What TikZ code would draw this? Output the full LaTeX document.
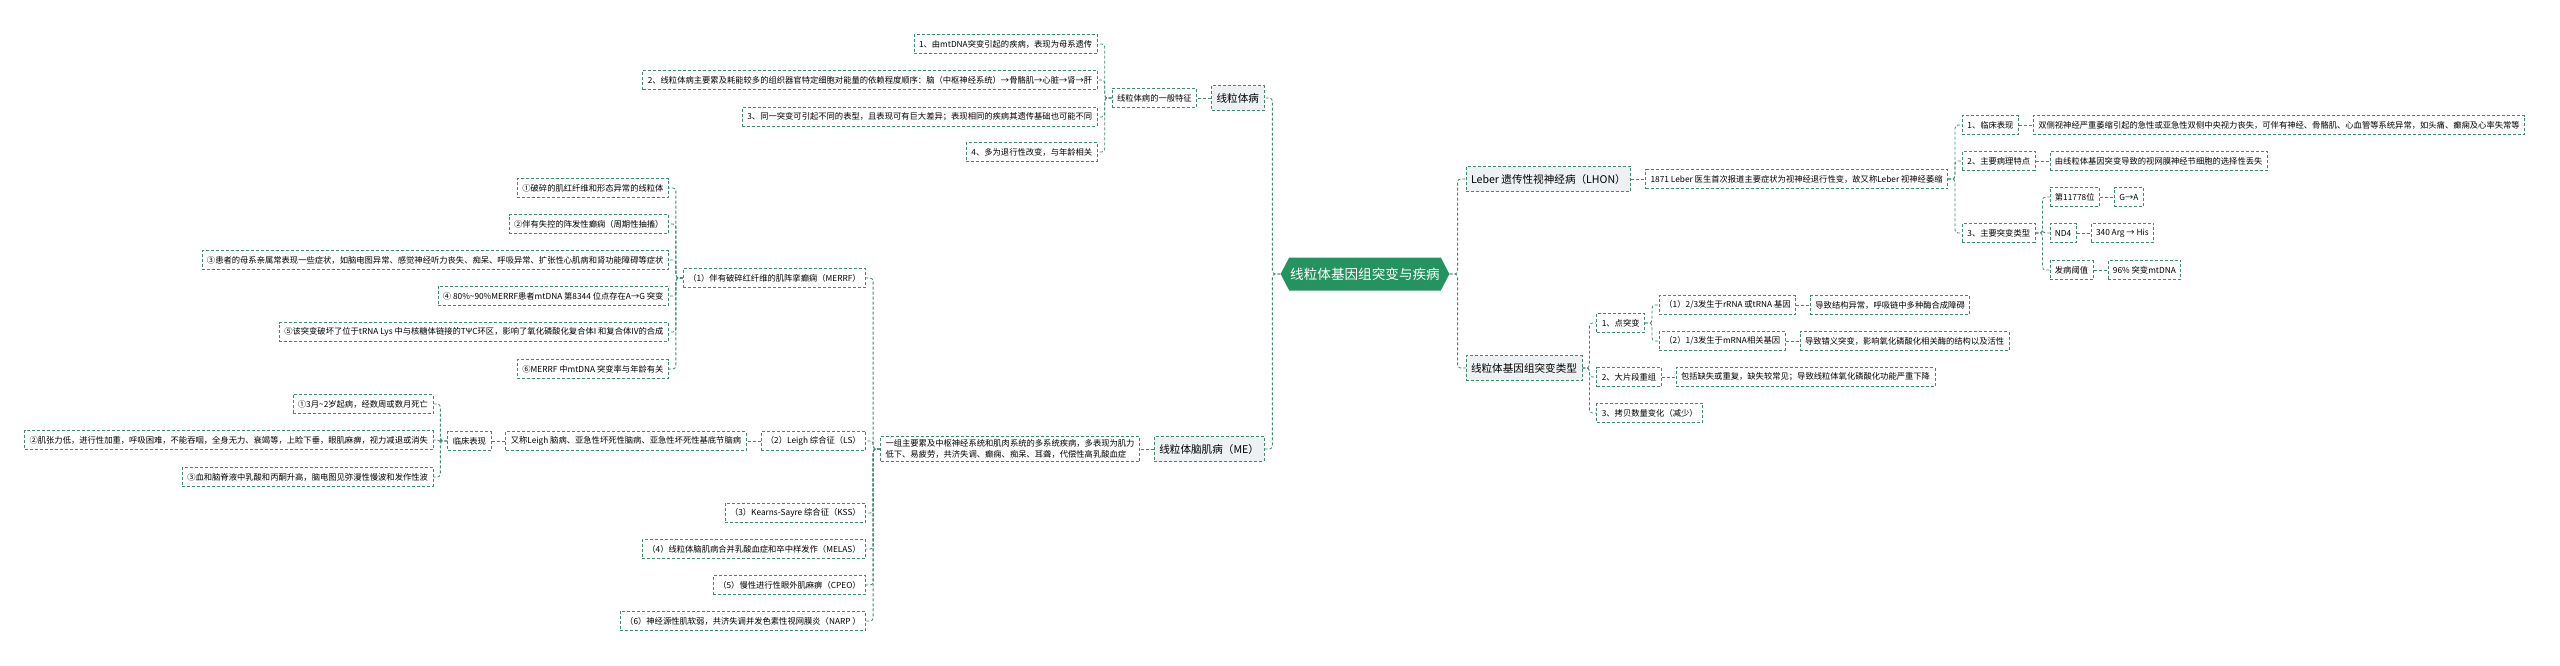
\documentclass[tikz,border=0pt]{standalone}
\usepackage{fontspec}
\setmainfont{Noto Sans CJK SC}
\usepackage{tikz}
\usetikzlibrary{positioning,shapes.symbols}
\definecolor{rootgreen}{HTML}{25935F}
\definecolor{linegreen}{HTML}{3F8B6C}
\definecolor{topicgray}{HTML}{EEF1F4}

\begin{document}
\begin{tikzpicture}[
    x=1pt,y=-1pt,
    font=\fontsize{8.3}{11.5}\selectfont,
    leaf/.style={draw=linegreen,dash pattern=on 3pt off 2pt,line width=0.8pt,fill=white,inner xsep=5pt,inner ysep=3pt,minimum height=19pt},
    topic/.style={leaf,fill=topicgray,font=\fontsize{10.6}{12}\selectfont,minimum height=25pt},
    centre/.style={shape=signal,signal to=west and east,signal pointer angle=125,fill=rootgreen,text=white,font=\fontsize{13.6}{15}\selectfont,minimum height=33pt,inner xsep=1pt},
    link/.style={draw=linegreen,dash pattern=on 3pt off 2pt,line width=0.8pt,rounded corners=3pt}
  ]
  \useasboundingbox (0,0) rectangle (2560,665);
  \node[centre] (root) at (1365,274) {线粒体基因组突变与疾病};

  % left: general features
  \node[topic,anchor=east,xshift=-16pt] (sick) at (root.west |- 0,98) {线粒体病};
  \node[leaf,left=14pt of sick] (gen) {线粒体病的一般特征};
  \node[leaf,anchor=east,xshift=-14pt] (g1) at (gen.west |- 0,44) {1、由mtDNA突变引起的疾病，表现为母系遗传};
  \node[leaf,anchor=east,xshift=-14pt] (g2) at (gen.west |- 0,80) {2、线粒体病主要累及耗能较多的组织器官特定细胞对能量的依赖程度顺序：脑（中枢神经系统）→骨骼肌→心脏→肾→肝};
  \node[leaf,anchor=east,xshift=-14pt] (g3) at (gen.west |- 0,117) {3、同一突变可引起不同的表型，且表现可有巨大差异；表现相同的疾病其遗传基础也可能不同};
  \node[leaf,anchor=east,xshift=-14pt] (g4) at (gen.west |- 0,152) {4、多为退行性改变，与年龄相关};

  % left: encephalomyopathy
  \node[topic,anchor=east,xshift=-16pt] (me) at (root.west |- 0,449) {线粒体脑肌病（ME）};
  \node[leaf,left=14pt of me,align=left] (medesc) {一组主要累及中枢神经系统和肌肉系统的多系统疾病，多表现为肌力\\低下、易疲劳，共济失调、癫痫、痴呆、耳聋，代偿性高乳酸血症};
  \node[leaf,anchor=east,xshift=-14pt] (merrf) at (medesc.west |- 0,278) {（1）伴有破碎红纤维的肌阵挛癫痫（MERRF）};
  \node[leaf,anchor=east,xshift=-14pt] (m1) at (merrf.west |- 0,188) {①破碎的肌红纤维和形态异常的线粒体};
  \node[leaf,anchor=east,xshift=-14pt] (m2) at (merrf.west |- 0,224) {②伴有失控的阵发性癫痫（周期性抽搐）};
  \node[leaf,anchor=east,xshift=-14pt] (m3) at (merrf.west |- 0,260) {③患者的母系亲属常表现一些症状，如脑电图异常、感觉神经听力丧失、痴呆、呼吸异常、扩张性心肌病和肾功能障碍等症状};
  \node[leaf,anchor=east,xshift=-14pt] (m4) at (merrf.west |- 0,296) {④ 80\%\textasciitilde90\%MERRF患者mtDNA 第8344 位点存在A→G 突变};
  \node[leaf,anchor=east,xshift=-14pt] (m5) at (merrf.west |- 0,332) {⑤该突变破坏了位于tRNA Lys 中与核糖体链接的TΨC环区，影响了氧化磷酸化复合体I 和复合体IV的合成};
  \node[leaf,anchor=east,xshift=-14pt] (m6) at (merrf.west |- 0,369) {⑥MERRF 中mtDNA 突变率与年龄有关};
  \node[leaf,anchor=east,xshift=-14pt] (leigh) at (medesc.west |- 0,441) {（2）Leigh 综合征（LS）};
  \node[leaf,left=14pt of leigh] (alias) {又称Leigh 脑病、亚急性坏死性脑病、亚急性坏死性基底节脑病};
  \node[leaf,left=14pt of alias] (clin) {临床表现};
  \node[leaf,anchor=east,xshift=-14pt] (k1) at (clin.west |- 0,404) {①3月\textasciitilde2岁起病，经数周或数月死亡};
  \node[leaf,anchor=east,xshift=-14pt] (k2) at (clin.west |- 0,440) {②肌张力低，进行性加重，呼吸困难，不能吞咽，全身无力、衰竭等，上睑下垂，眼肌麻痹，视力减退或消失};
  \node[leaf,anchor=east,xshift=-14pt] (k3) at (clin.west |- 0,477) {③血和脑脊液中乳酸和丙酮升高，脑电图见弥漫性慢波和发作性波};
  \node[leaf,anchor=east,xshift=-14pt] (kss) at (medesc.west |- 0,513) {（3）Kearns-Sayre 综合征（KSS）};
  \node[leaf,anchor=east,xshift=-14pt] (melas) at (medesc.west |- 0,549) {（4）线粒体脑肌病合并乳酸血症和卒中样发作（MELAS）};
  \node[leaf,anchor=east,xshift=-14pt] (cpeo) at (medesc.west |- 0,585) {（5）慢性进行性眼外肌麻痹（CPEO）};
  \node[leaf,anchor=east,xshift=-14pt] (narp) at (medesc.west |- 0,621) {（6）神经源性肌软弱，共济失调并发色素性视网膜炎（NARP ）};

  % right: LHON
  \node[topic,anchor=west,xshift=16pt] (lhon) at (root.east |- 0,179) {Leber 遗传性视神经病（LHON）};
  \node[leaf,right=14pt of lhon] (l0) {1871 Leber 医生首次报道主要症状为视神经退行性变，故又称Leber 视神经萎缩};
  \node[leaf,anchor=west,xshift=14pt] (c1) at (l0.east |- 0,125) {1、临床表现};
  \node[leaf,right=14pt of c1] (c1d) {双侧视神经严重萎缩引起的急性或亚急性双侧中央视力丧失，可伴有神经、骨骼肌、心血管等系统异常，如头痛、癫痫及心率失常等};
  \node[leaf,anchor=west,xshift=14pt] (c2) at (l0.east |- 0,161) {2、主要病理特点};
  \node[leaf,right=14pt of c2] (c2d) {由线粒体基因突变导致的视网膜神经节细胞的选择性丢失};
  \node[leaf,anchor=west,xshift=14pt] (c3) at (l0.east |- 0,233) {3、主要突变类型};
  \node[leaf,anchor=west,xshift=14pt] (t1) at (c3.east |- 0,197) {第11778位};
  \node[leaf,right=14pt of t1] (t1d) {G→A};
  \node[leaf,anchor=west,xshift=14pt] (t2) at (c3.east |- 0,233) {ND4};
  \node[leaf,right=14pt of t2] (t2d) {340 Arg → His};
  \node[leaf,anchor=west,xshift=14pt] (t3) at (c3.east |- 0,270) {发病阈值};
  \node[leaf,right=14pt of t3] (t3d) {96\% 突变mtDNA};

  % right: mutation types
  \node[topic,anchor=west,xshift=16pt] (mut) at (root.east |- 0,368) {线粒体基因组突变类型};
  \node[leaf,anchor=west,xshift=14pt] (p1) at (mut.east |- 0,323) {1、点突变};
  \node[leaf,anchor=west,xshift=14pt] (pa) at (p1.east |- 0,305) {（1）2/3发生于rRNA 或tRNA 基因};
  \node[leaf,right=14pt of pa] (pad) {导致结构异常，呼吸链中多种酶合成障碍};
  \node[leaf,anchor=west,xshift=14pt] (pb) at (p1.east |- 0,341) {（2）1/3发生于mRNA相关基因};
  \node[leaf,right=14pt of pb] (pbd) {导致错义突变，影响氧化磷酸化相关酶的结构以及活性};
  \node[leaf,anchor=west,xshift=14pt] (p2) at (mut.east |- 0,377) {2、大片段重组};
  \node[leaf,right=14pt of p2] (p2d) {包括缺失或重复，缺失较常见；导致线粒体氧化磷酸化功能严重下降};
  \node[leaf,anchor=west,xshift=14pt] (p3) at (mut.east |- 0,413) {3、拷贝数量变化（减少）};

  \draw[link] (root.west) -- ++(-8,0) |- (sick.east);
  \draw[link] (root.west) -- ++(-8,0) |- (me.east);
  \draw[link] (root.east) -- ++(8,0) |- (lhon.west);
  \draw[link] (root.east) -- ++(8,0) |- (mut.west);

  \draw[link] (sick.west) -- (gen.east);
  \draw[link] (gen.west) -- ++(-7,0) |- (g1.east);
  \draw[link] (gen.west) -- ++(-7,0) |- (g2.east);
  \draw[link] (gen.west) -- ++(-7,0) |- (g3.east);
  \draw[link] (gen.west) -- ++(-7,0) |- (g4.east);

  \draw[link] (me.west) -- (medesc.east);
  \draw[link] (medesc.west) -- ++(-7,0) |- (merrf.east);
  \draw[link] (medesc.west) -- ++(-7,0) |- (leigh.east);
  \draw[link] (medesc.west) -- ++(-7,0) |- (kss.east);
  \draw[link] (medesc.west) -- ++(-7,0) |- (melas.east);
  \draw[link] (medesc.west) -- ++(-7,0) |- (cpeo.east);
  \draw[link] (medesc.west) -- ++(-7,0) |- (narp.east);
  \draw[link] (merrf.west) -- ++(-7,0) |- (m1.east);
  \draw[link] (merrf.west) -- ++(-7,0) |- (m2.east);
  \draw[link] (merrf.west) -- ++(-7,0) |- (m3.east);
  \draw[link] (merrf.west) -- ++(-7,0) |- (m4.east);
  \draw[link] (merrf.west) -- ++(-7,0) |- (m5.east);
  \draw[link] (merrf.west) -- ++(-7,0) |- (m6.east);
  \draw[link] (leigh.west) -- (alias.east);
  \draw[link] (alias.west) -- (clin.east);
  \draw[link] (clin.west) -- ++(-7,0) |- (k1.east);
  \draw[link] (clin.west) -- ++(-7,0) |- (k2.east);
  \draw[link] (clin.west) -- ++(-7,0) |- (k3.east);

  \draw[link] (lhon.east) -- (l0.west);
  \draw[link] (l0.east) -- ++(7,0) |- (c1.west);
  \draw[link] (l0.east) -- ++(7,0) |- (c2.west);
  \draw[link] (l0.east) -- ++(7,0) |- (c3.west);
  \draw[link] (c1.east) -- (c1d.west);
  \draw[link] (c2.east) -- (c2d.west);
  \draw[link] (c3.east) -- ++(7,0) |- (t1.west);
  \draw[link] (c3.east) -- ++(7,0) |- (t2.west);
  \draw[link] (c3.east) -- ++(7,0) |- (t3.west);
  \draw[link] (t1.east) -- (t1d.west);
  \draw[link] (t2.east) -- (t2d.west);
  \draw[link] (t3.east) -- (t3d.west);

  \draw[link] (mut.east) -- ++(7,0) |- (p1.west);
  \draw[link] (mut.east) -- ++(7,0) |- (p2.west);
  \draw[link] (mut.east) -- ++(7,0) |- (p3.west);
  \draw[link] (p1.east) -- ++(7,0) |- (pa.west);
  \draw[link] (p1.east) -- ++(7,0) |- (pb.west);
  \draw[link] (pa.east) -- (pad.west);
  \draw[link] (pb.east) -- (pbd.west);
  \draw[link] (p2.east) -- (p2d.west);
\end{tikzpicture}
\end{document}
